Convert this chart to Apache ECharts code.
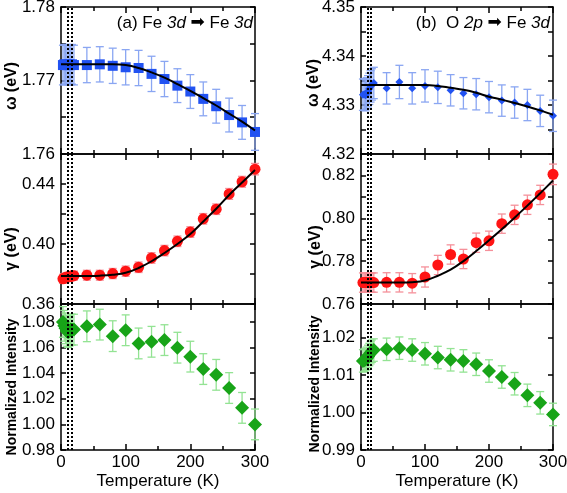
<!DOCTYPE html>
<html><head><meta charset="utf-8">
<script src="https://cdn.jsdelivr.net/npm/echarts@6/dist/echarts.min.js"></script>
<style>html,body{margin:0;padding:0;background:#fff}#c{width:567px;height:493px}</style>
</head><body><div id="c"></div>
<script>
// ---------- data ----------
const temps = [3,5,7,9,11,13,15,17,20,40,60,80,100,120,140,160,180,200,220,240,260,280,300];

const omegaFe = [1.7721,1.7722,1.7721,1.7722,1.7721,1.7722,1.7721,1.7722,1.7721,
                 1.7721,1.7722,1.7720,1.7718,1.7717,1.7709,1.7702,1.7693,1.7685,1.7675,1.7665,1.7653,1.7643,1.7630];
const omegaFeErr = [0.0027,0.0027,0.0027,0.0027,0.0027,0.0027,0.0027,0.0027,0.0027,
                    0.0024,0.0024,0.0024,0.0024,0.0024,0.0024,0.0024,0.0023,0.0023,0.0023,0.0023,0.0023,0.0023,0.0025];
const gammaFe = [0.3768,0.3772,0.3776,0.3779,0.3781,0.3783,0.3785,0.3787,0.3789,
                 0.3792,0.3792,0.3803,0.3819,0.3845,0.3907,0.3956,0.4018,0.4080,0.4168,0.4232,0.4334,0.4415,0.4499];
const gammaFeErr = [0.0030,0.0030,0.0030,0.0030,0.0030,0.0030,0.0030,0.0030,0.0030,
                    0.0033,0.0033,0.0034,0.0034,0.0035,0.0035,0.0035,0.0035,0.0035,0.0035,0.0035,0.0036,0.0036,0.0038];
const intFe = [1.0800,1.0770,1.0750,1.0730,1.0720,1.0730,1.0740,1.0740,1.0740,
               1.0766,1.0779,1.0689,1.0735,1.0632,1.0645,1.0658,1.0599,1.0529,1.0432,1.0387,1.0284,1.0129,1.0000];
const intFeErr = [0.012,0.012,0.012,0.012,0.012,0.012,0.012,0.012,0.012,
                  0.012,0.012,0.012,0.012,0.012,0.012,0.012,0.012,0.012,0.012,0.012,0.012,0.012,0.012];

const omegaO = [4.3321,4.3322,4.3320,4.3324,4.3328,4.3333,4.3338,4.3342,4.3345,
                4.3334,4.3347,4.3334,4.3339,4.3336,4.3330,4.3324,4.3322,4.3316,4.3309,4.3305,4.3300,4.3288,4.3278];
const omegaOErr = [0.0032,0.0032,0.0032,0.0032,0.0032,0.0032,0.0032,0.0032,0.0032,
                   0.0032,0.0034,0.0032,0.0033,0.0033,0.0032,0.0032,0.0032,0.0032,0.0032,0.0032,0.0032,0.0032,0.0032];
const gammaO = [0.7700,0.7700,0.7700,0.7700,0.7700,0.7700,0.7700,0.7700,0.7700,
                0.7701,0.7701,0.7697,0.7726,0.7782,0.7831,0.7810,0.7886,0.7895,0.7975,0.8016,0.8063,0.8109,0.8205];
const gammaOErr = [0.0045,0.0045,0.0045,0.0045,0.0045,0.0045,0.0045,0.0045,0.0045,
                   0.0045,0.0045,0.0045,0.0047,0.0045,0.0045,0.0045,0.0045,0.0045,0.0045,0.0045,0.0045,0.0045,0.0048];
const intO = [1.0138,1.0140,1.0142,1.0145,1.0150,1.0155,1.0160,1.0164,1.0167,
              1.0169,1.0172,1.0167,1.0157,1.0147,1.0141,1.0138,1.0129,1.0111,1.0095,1.0077,1.0046,1.0026,0.9995];
const intOErr = [0.003,0.003,0.003,0.003,0.003,0.003,0.003,0.003,0.003,
                 0.003,0.003,0.003,0.003,0.003,0.003,0.003,0.003,0.003,0.003,0.003,0.003,0.003,0.003];

// fitted curves
const fitT = [0,20,40,60,80,100,120,140,160,180,200,220,240,260,280,300];
const fitOmegaFe = [1.7722,1.7722,1.7722,1.7722,1.7722,1.7721,1.7717,1.7711,1.7704,1.7695,1.7686,1.7676,1.7666,1.7655,1.7644,1.7632];
const fitGammaFe = [0.3786,0.3786,0.3787,0.3789,0.3795,0.3808,0.3840,0.3885,0.3940,0.4000,0.4066,0.4150,0.4235,0.4327,0.4410,0.4493];
const fitOmegaO  = [4.3341,4.3341,4.3341,4.3341,4.3341,4.3341,4.3339,4.3335,4.3331,4.3325,4.3317,4.3311,4.3304,4.3297,4.3289,4.3280];
const fitGammaO  = [0.7700,0.7700,0.7700,0.7700,0.7702,0.7710,0.7732,0.7760,0.7800,0.7847,0.7897,0.7949,0.8003,0.8059,0.8117,0.8176];

// dotted guide lines (K)
const guideT = [10, 16];

// tick labels
const xTickLabels = ['0','100','200','300'];
const yTicksTL = ['1.76','1.77','1.78'];
const yTicksML = ['0.36','0.40','0.44'];
const yTicksBL = ['0.98','1.00','1.02','1.04','1.06','1.08'];
const yTicksTR = ['4.32','4.33','4.34','4.35'];
const yTicksMR = ['0.76','0.78','0.80','0.82'];
const yTicksBR = ['0.99','1.00','1.01','1.02'];

// ---------- layout ----------
const FONT = 'Liberation Sans';
const colLeft = [61, 361], colWidth = [194, 192];
const rowTop = [7, 154, 304], rowHeight = [147, 150, 146];

const panels = [
  {col:0,row:0,y:omegaFe,e:omegaFeErr,fit:fitOmegaFe,min:1.76,max:1.78,interval:0.01,minor:true,labels:yTicksTL,
   sym:'rect',size:10,color:'#2152f2',err:'#8aa6f2'},
  {col:0,row:1,y:gammaFe,e:gammaFeErr,fit:fitGammaFe,min:0.36,max:0.46,interval:0.02,minor:false,labels:yTicksML,
   sym:'circle',size:11,color:'#ff1414',err:'#f5909a'},
  {col:0,row:2,y:intFe,e:intFeErr,fit:null,min:0.98,max:1.094,interval:0.02,minor:false,labels:yTicksBL,
   sym:'diamond',size:14,color:'#18a418',err:'#93e393'},
  {col:1,row:0,y:omegaO,e:omegaOErr,fit:fitOmegaO,min:4.32,max:4.35,interval:0.01,minor:true,labels:yTicksTR,
   sym:'diamond',size:8,color:'#2152f2',err:'#8aa6f2'},
  {col:1,row:1,y:gammaO,e:gammaOErr,fit:fitGammaO,min:0.76,max:0.83,interval:0.01,minor:false,labels:yTicksMR,
   sym:'circle',size:11,color:'#ff1414',err:'#f5909a'},
  {col:1,row:2,y:intO,e:intOErr,fit:null,min:0.99,max:1.029,interval:0.01,minor:false,labels:yTicksBR,
   sym:'diamond',size:14,color:'#18a418',err:'#93e393'}
];

const grid = [], xAxis = [], yAxis = [], series = [];
const axLine = {show:true, onZero:false, lineStyle:{color:'#000', width:1.5}};

function errRender(color){
  return function(params, api){
    const x = api.value(0), y = api.value(1), e = api.value(2);
    const lo = api.coord([x, y - e]), hi = api.coord([x, y + e]);
    const w = 4, st = {stroke:color, lineWidth:1.3};
    return {type:'group', children:[
      {type:'line', shape:{x1:lo[0],y1:lo[1],x2:hi[0],y2:hi[1]}, style:st},
      {type:'line', shape:{x1:lo[0]-w,y1:lo[1],x2:lo[0]+w,y2:lo[1]}, style:st},
      {type:'line', shape:{x1:hi[0]-w,y1:hi[1],x2:hi[0]+w,y2:hi[1]}, style:st}
    ]};
  };
}

panels.forEach((p, i) => {
  grid.push({left:colLeft[p.col], top:rowTop[p.row], width:colWidth[p.col], height:rowHeight[p.row],
             containLabel:false, outerBoundsMode:'none', show:false});
  const bottomRow = p.row === 2;
  xAxis.push({type:'value', gridIndex:i, position:'bottom', min:0, max:300, interval:100,
    axisLine:axLine, splitLine:{show:false},
    axisTick:{show:true, inside:true, length:6, lineStyle:{color:'#000',width:1.5}},
    minorTick:{show:true, splitNumber:2, length:4, lineStyle:{color:'#000',width:1.5}},
    axisLabel:{show:bottomRow, margin:4, color:'#000', fontFamily:FONT, fontSize:17,
      formatter:v => xTickLabels.indexOf(String(Math.round(v))) >= 0 ? String(Math.round(v)) : ''},
    name: bottomRow ? 'Temperature (K)' : '', nameLocation:'middle', nameGap:23,
    nameTextStyle:{color:'#000', fontFamily:FONT, fontSize:17}});
  xAxis.push({type:'value', gridIndex:i, position:'top', min:0, max:300, interval:100,
    axisLine:axLine, splitLine:{show:false},
    axisTick:{show:true, inside:true, length:6, lineStyle:{color:'#000',width:1.5}},
    minorTick:{show:true, splitNumber:2, length:4, lineStyle:{color:'#000',width:1.5}},
    axisLabel:{show:false}});
  const fmt = v => { const s = v.toFixed(2); return (p.labels.indexOf(s) >= 0 && Math.abs(v - parseFloat(s)) < 1e-6) ? s : ''; };
  const yBase = {type:'value', gridIndex:i, min:p.min, max:p.max, interval:p.interval,
    axisLine:axLine, splitLine:{show:false},
    axisTick:{show:true, inside:true, length:5, lineStyle:{color:'#000',width:1.5}},
    minorTick:{show:p.minor, splitNumber:2, length:5, lineStyle:{color:'#000',width:1.5}}};
  yAxis.push(Object.assign({}, yBase, {position:'left',
    axisLabel:{show:true, margin:6, color:'#000', fontFamily:FONT, fontSize:17, formatter:fmt,
               showMinLabel:true, showMaxLabel:true, hideOverlap:false}}));
  yAxis.push(Object.assign({}, yBase, {position:'right', axisLabel:{show:false}}));

  const xi = 2*i, yi = 2*i;
  const pts = temps.map((t, k) => [t, p.y[k], p.e[k]]);
  series.push({type:'custom', xAxisIndex:xi, yAxisIndex:yi, renderItem:errRender(p.err),
    encode:{x:0, y:1}, data:pts, z:2, silent:true});
  series.push({type:'scatter', xAxisIndex:xi, yAxisIndex:yi, data:pts.map(d=>[d[0], d[1]]),
    symbol:p.sym, symbolSize:p.size, itemStyle:{color:p.color, opacity:1}, z:4, silent:true});
  if (p.fit) {
    series.push({type:'line', xAxisIndex:xi, yAxisIndex:yi, data:fitT.map((t,k)=>[t, p.fit[k]]),
      smooth:0.4, showSymbol:false, symbol:'none', lineStyle:{color:'#000', width:2}, z:5, silent:true});
  }
  series.push({type:'line', xAxisIndex:xi, yAxisIndex:yi, data:[], z:6, silent:true,
    markLine:{silent:true, symbol:['none','none'], label:{show:false}, animation:false,
      lineStyle:{color:'#000', type:[2,2], width:2},
      data:guideT.map(t => ({xAxis:t}))}});
});

function vText(x, y, text, size){
  return {type:'text', x:x, y:y, rotation:Math.PI/2, z:10,
    style:{text:text, font:'bold ' + size + 'px "Liberation Sans"', fill:'#000',
           textAlign:'center', textVerticalAlign:'middle', align:'center', verticalAlign:'middle'}};
}
const rich = {i:{fontStyle:'italic', fontSize:17, fontFamily:FONT, fill:'#000', color:'#000'},
              ar:{fontSize:17, fontFamily:'DejaVu Sans', fill:'#000', color:'#000'}};
const graphic = [
  vText(12, 86, 'ω (eV)', 16),
  vText(12, 249, 'γ (eV)', 16),
  vText(12, 387, 'Normalized Intensity', 14),
  vText(314, 83, 'ω (eV)', 16),
  vText(316, 247, 'γ (eV)', 16),
  vText(315, 384, 'Normalized Intensity', 14),
  {type:'text', x:253, y:23, z:10, style:{text:'(a) Fe {i|3d} {ar|➡} Fe {i|3d}', rich:rich,
     fontSize:17, fontFamily:FONT, fill:'#000', textAlign:'right', textVerticalAlign:'middle', align:'right', verticalAlign:'middle'}},
  {type:'text', x:550, y:23, z:10, style:{text:'(b)  O {i|2p} {ar|➡} Fe {i|3d}', rich:rich,
     fontSize:17, fontFamily:FONT, fill:'#000', textAlign:'right', textVerticalAlign:'middle', align:'right', verticalAlign:'middle'}}
];

const chart = echarts.init(document.getElementById('c'), null, {renderer:'canvas', width:567, height:493});
chart.setOption({animation:false, backgroundColor:'#fff', grid, xAxis, yAxis, series, graphic});
</script>
</body></html>
